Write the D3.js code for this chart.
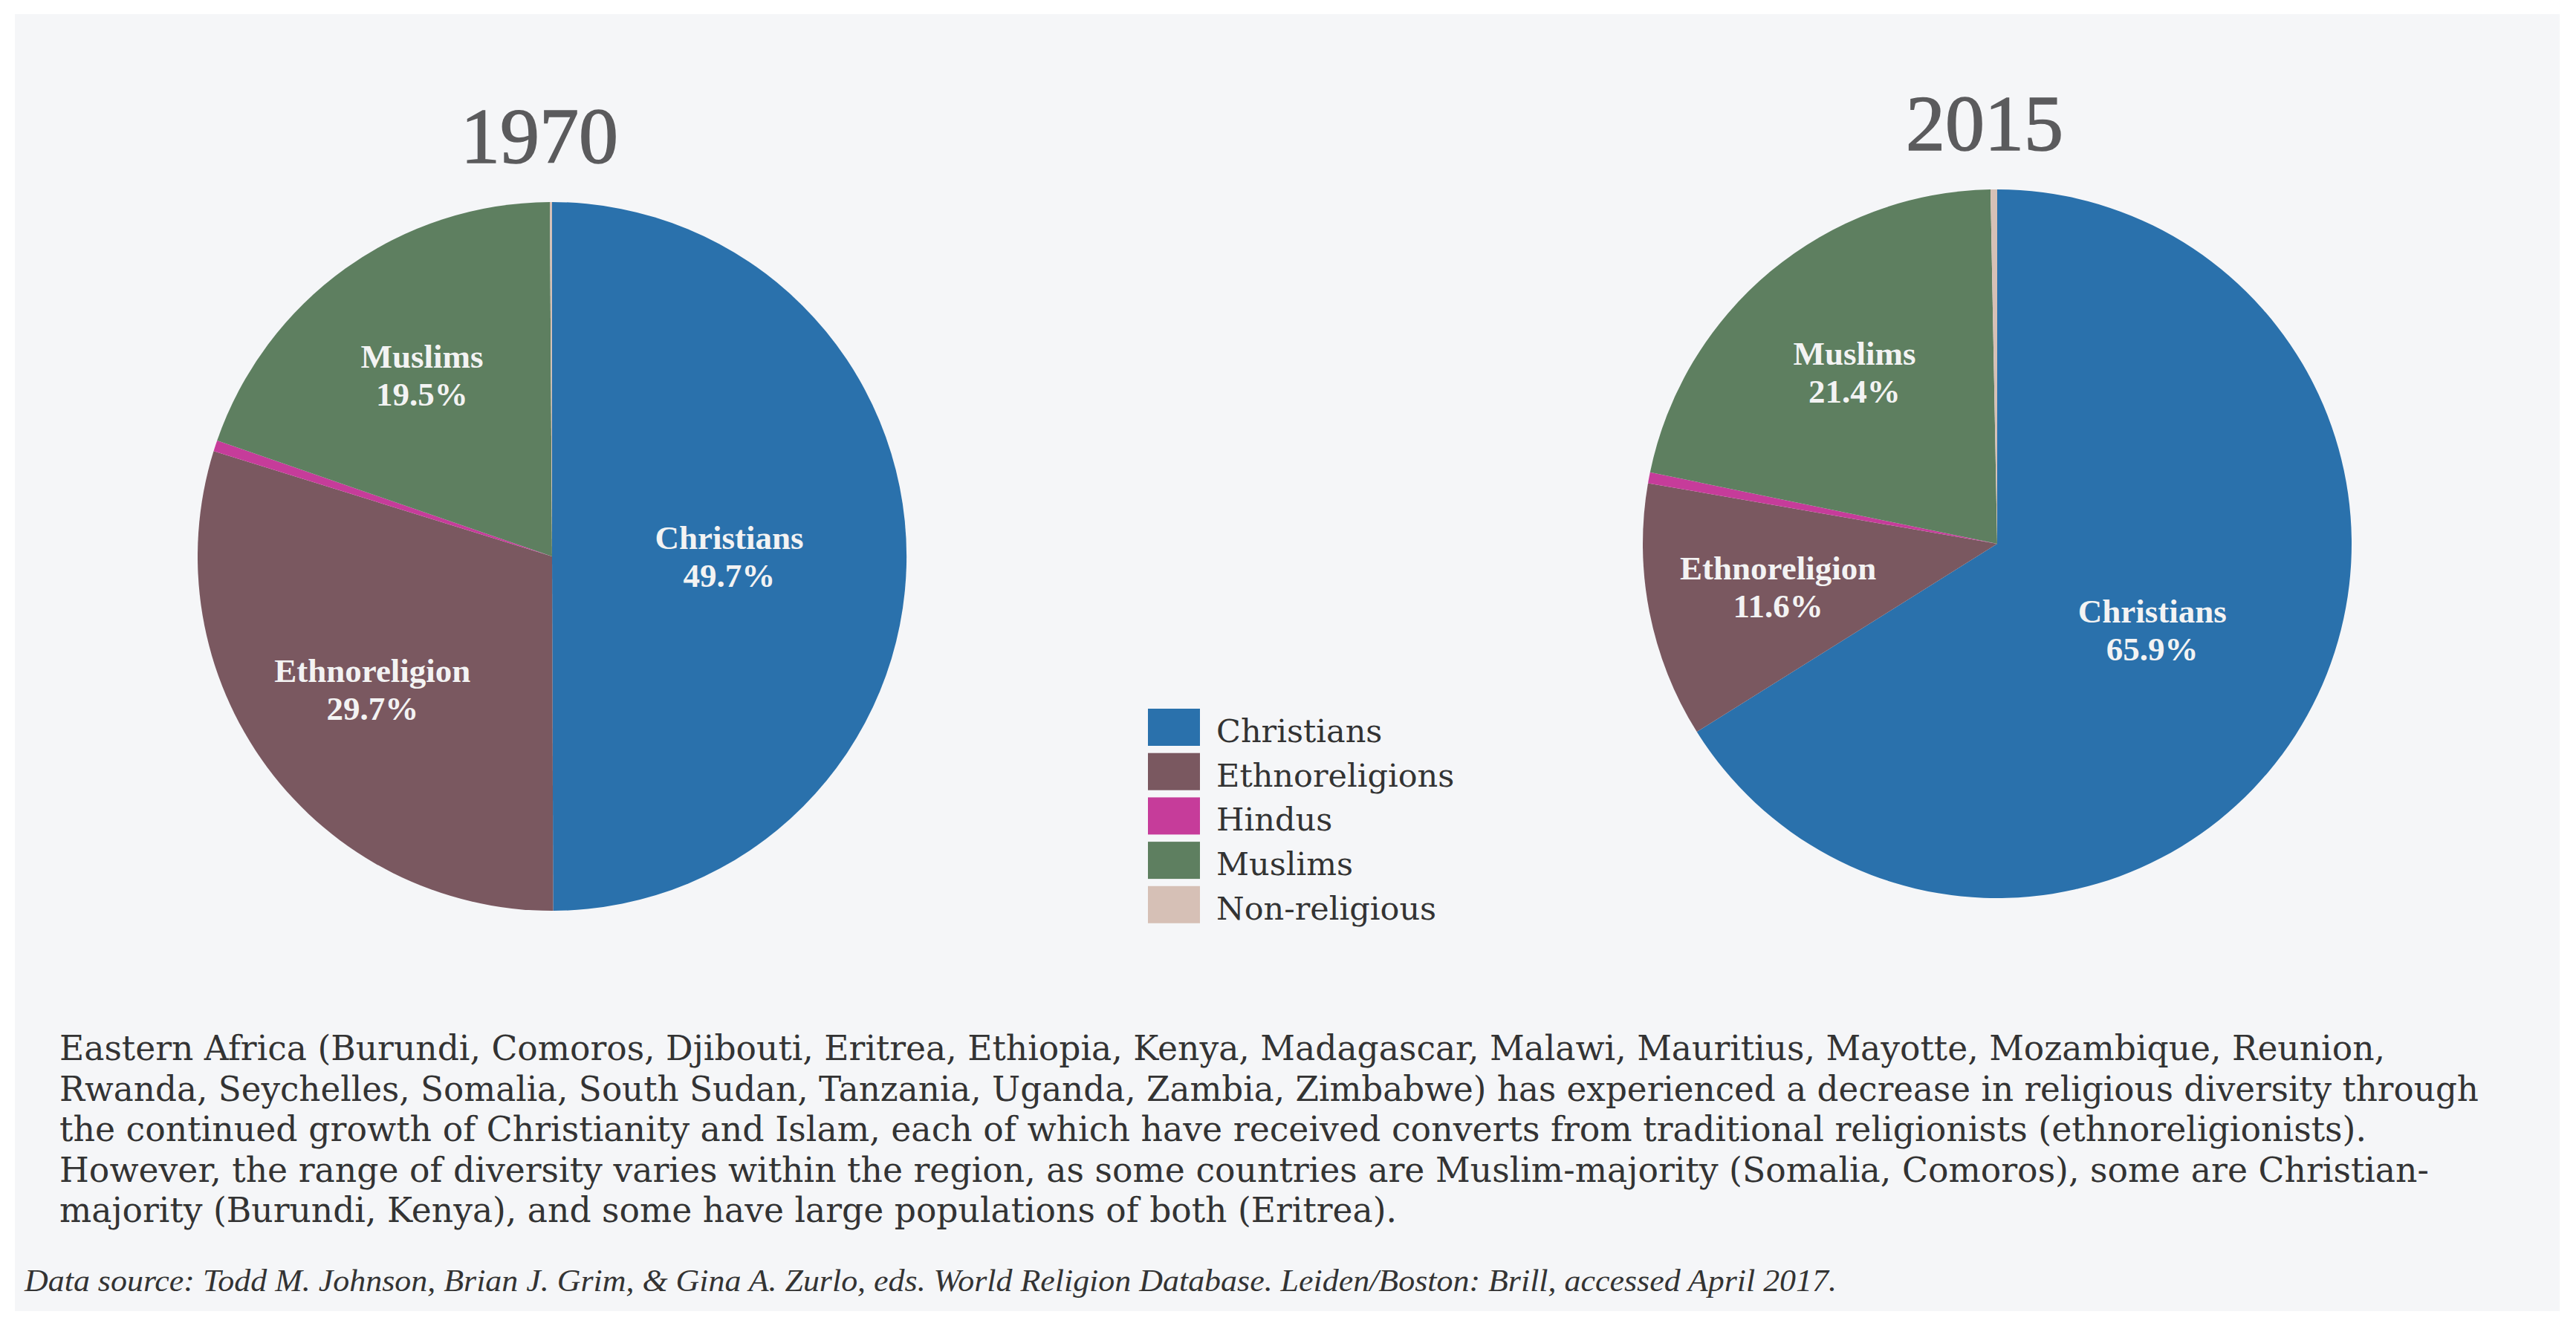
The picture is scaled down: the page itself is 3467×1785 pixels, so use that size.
<!DOCTYPE html>
<html>
<head>
<meta charset="utf-8">
<script src="https://cdn.jsdelivr.net/npm/d3@7"></script>
<style>
  html, body { margin: 0; padding: 0; background: #ffffff; }
  svg { display: block; }
</style>
</head>
<body>
<script>
// categories, in the order the slices run clockwise from 12 o'clock
var categories = ["Christians", "Ethnoreligions", "Hindus", "Muslims", "Non-religious"];
var sliceNames = ["Christians", "Ethnoreligion", "Hindus", "Muslims", "Non-religious"];
var colors = ["#2a71ac", "#7a5860", "#c63c9a", "#5e7f60", "#d6c0b6"];

var years = ["1970", "2015"];
var values1970 = [49.7, 29.7, 0.5, 19.5, 0.1];
var values2015 = [65.9, 11.6, 0.5, 21.4, 0.3];

var bodyLines = [
    "Eastern Africa (Burundi, Comoros, Djibouti, Eritrea, Ethiopia, Kenya, Madagascar, Malawi, Mauritius, Mayotte, Mozambique, Reunion,",
    "Rwanda, Seychelles, Somalia, South Sudan, Tanzania, Uganda, Zambia, Zimbabwe) has experienced a decrease in religious diversity through",
    "the continued growth of Christianity and Islam, each of which have received converts from traditional religionists (ethnoreligionists).",
    "However, the range of diversity varies within the region, as some countries are Muslim-majority (Somalia, Comoros), some are Christian-",
    "majority (Burundi, Kenya), and some have large populations of both (Eritrea)."
];
var sourceLine = "Data source: Todd M. Johnson, Brian J. Grim, & Gina A. Zurlo, eds. World Religion Database. Leiden/Boston: Brill, accessed April 2017.";

document.addEventListener('DOMContentLoaded', init);

function init() {
    let width = 3467;
    let height = 1785;

    let svg = d3.select("body")
        .append("svg")
        .attr("width", width)
        .attr("height", height);

    // light panel behind everything
    svg.append("rect")
        .attr("x", 20)
        .attr("y", 19)
        .attr("width", 3425)
        .attr("height", 1746)
        .attr("fill", "#f5f6f8");

    let color = d3.scaleOrdinal().domain(categories).range(colors);

    drawPie(svg, color, years[0], values1970, 743, 749);
    drawPie(svg, color, years[1], values2015, 2688, 732);

    drawLegend(svg, color);

    // paragraph under the charts
    let widths = [3130, 3256, 3105, 3189, 1800];
    svg.selectAll("text.body")
        .data(bodyLines)
        .enter()
        .append("text")
        .attr("class", "body")
        .attr("x", 80)
        .attr("y", (d, i) => 1427 + i * 54.5)
        .attr("textLength", (d, i) => widths[i])
        .attr("lengthAdjust", "spacingAndGlyphs")
        .attr("font-family", "DejaVu Serif, serif")
        .attr("font-size", "46px")
        .attr("fill", "#333333")
        .text(d => d);

    svg.append("text")
        .attr("x", 33)
        .attr("y", 1738)
        .attr("textLength", 2439)
        .attr("lengthAdjust", "spacingAndGlyphs")
        .attr("font-family", "Liberation Serif, serif")
        .attr("font-style", "italic")
        .attr("font-size", "43px")
        .attr("fill", "#333333")
        .text(sourceLine);
}

function drawPie(svg, color, year, values, cx, cy) {
    let radius = 477;

    let rows = values.map((v, i) => ({ key: categories[i], name: sliceNames[i], value: v }));

    let pie = d3.pie()
        .sort(null)
        .value(d => d.value);

    let arc = d3.arc()
        .innerRadius(0)
        .outerRadius(radius);

    // big slices get their label nearer the middle
    let total = d3.sum(values);
    let labelPos = d => {
        let r = d.data.value / total > 0.4 ? radius * 0.5 : radius * 0.63;
        return d3.arc().innerRadius(r).outerRadius(r).centroid(d);
    };

    let g = svg.append("g")
        .attr("transform", "translate(" + cx + "," + cy + ")");

    // title
    g.append("text")
        .attr("x", -17)
        .attr("y", -530)
        .attr("text-anchor", "middle")
        .attr("font-family", "Liberation Serif, serif")
        .attr("font-size", "106px")
        .attr("fill", "#5b5b5d")
        .attr("stroke", "#5b5b5d")
        .attr("stroke-width", 1.6)
        .text(year);

    let arcs = pie(rows);

    g.selectAll("path")
        .data(arcs)
        .enter()
        .append("path")
        .attr("d", arc)
        .attr("fill", d => color(d.data.key));

    // labels for the big slices only
    let labelled = arcs.filter(d => d.data.value > 5);

    let lab = g.selectAll("g.label")
        .data(labelled)
        .enter()
        .append("g")
        .attr("class", "label")
        .attr("transform", d => "translate(" + labelPos(d) + ")");

    lab.append("text")
        .attr("y", -10)
        .attr("text-anchor", "middle")
        .attr("font-family", "Liberation Serif, serif")
        .attr("font-weight", "bold")
        .attr("font-size", "45px")
        .attr("fill", "#f3f3f3")
        .text(d => d.data.name);

    lab.append("text")
        .attr("y", 41)
        .attr("text-anchor", "middle")
        .attr("font-family", "Liberation Serif, serif")
        .attr("font-weight", "bold")
        .attr("font-size", "45px")
        .attr("fill", "#f3f3f3")
        .text(d => d.data.value.toFixed(1) + "%");
}

function drawLegend(svg, color) {
    let step = 59.7;

    let item = svg.selectAll("g.legend")
        .data(categories)
        .enter()
        .append("g")
        .attr("class", "legend")
        .attr("transform", (d, i) => "translate(1545," + (954 + i * step) + ")");

    item.append("rect")
        .attr("width", 70)
        .attr("height", 50)
        .attr("fill", d => color(d));

    item.append("text")
        .attr("x", 92)
        .attr("y", 45)
        .attr("font-family", "DejaVu Serif, serif")
        .attr("font-size", "43px")
        .attr("fill", "#333333")
        .text(d => d);
}
</script>
</body>
</html>
